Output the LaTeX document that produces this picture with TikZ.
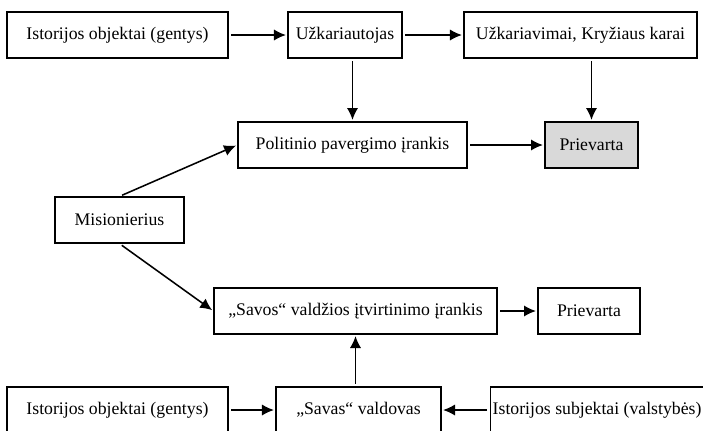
\documentclass[tikz,border=0pt]{standalone}
\usepackage{fontspec}
\setmainfont{Liberation Serif}
\usetikzlibrary{arrows.meta, positioning}
\tikzstyle{std} = [rectangle, minimum height=1.15cm, text centered, draw=black, line width=0.9pt, font=\fontsize{12.6}{15}\selectfont]
\tikzstyle{shaded} = [std, fill=gray!30]
\tikzstyle{arrow} = [line width=1.1pt,-{Latex[length=8.5pt,width=8pt]},shorten <=2pt,shorten >=1pt]

\begin{document}
\begin{tikzpicture}[x=0.025cm, y=-0.025cm]
      \useasboundingbox (0,0) rectangle (703,430);
      \clip (0,0) rectangle (703,430);

      \node (objtop) [std, minimum width=5.525cm] at (117.5,35) {Istorijos objektai (gentys)};
      \node (conq) [std, minimum width=2.85cm] at (345,35) {Užkariautojas};
      \node (wars) [std, minimum width=5.825cm] at (580.5,35) {Užkariavimai, Kryžiaus karai};
      \node (pol) [std, minimum width=5.725cm] at (352.5,145) {Politinio pavergimo įrankis};
      \node (force) [shaded, minimum width=2.325cm] at (591.5,145) {Prievarta};
      \node (miss) [std, minimum width=3.225cm] at (119.5,220) {Misionierius};
      \node (own) [std, minimum width=7.075cm] at (355.5,311) {„Savos“ valdžios įtvirtinimo įrankis};
      \node (force2) [std, minimum width=2.55cm] at (589,311) {Prievarta};
      \node (objbot) [std, minimum width=5.525cm] at (117.5,410) {Istorijos objektai (gentys)};
      \node (ruler) [std, minimum width=4.125cm] at (358.5,410) {„Savas“ valdovas};
      \node (subj) [std, inner xsep=1.5pt, anchor=west] at (490,410) {Istorijos subjektai (valstybės)};

      \draw [arrow] (objtop) -- (conq);
      \draw [arrow] (conq) -- (wars);
      \draw [arrow] (conq.south -| pol.north) -- (pol.north);
      \draw [arrow] (wars.south -| force.north) -- (force.north);
      \draw [arrow] (pol) -- (force);
      \draw [arrow] (miss.north) -- (pol.west);
      \draw [arrow] (miss.south) -- (own.west);
      \draw [arrow] (own) -- (force2);
      \draw [arrow] (ruler.north -| own.south) -- (own.south);
      \draw [arrow] (objbot) -- (ruler);
      \draw [arrow] (subj) -- (ruler);
    \end{tikzpicture}
\end{document}
